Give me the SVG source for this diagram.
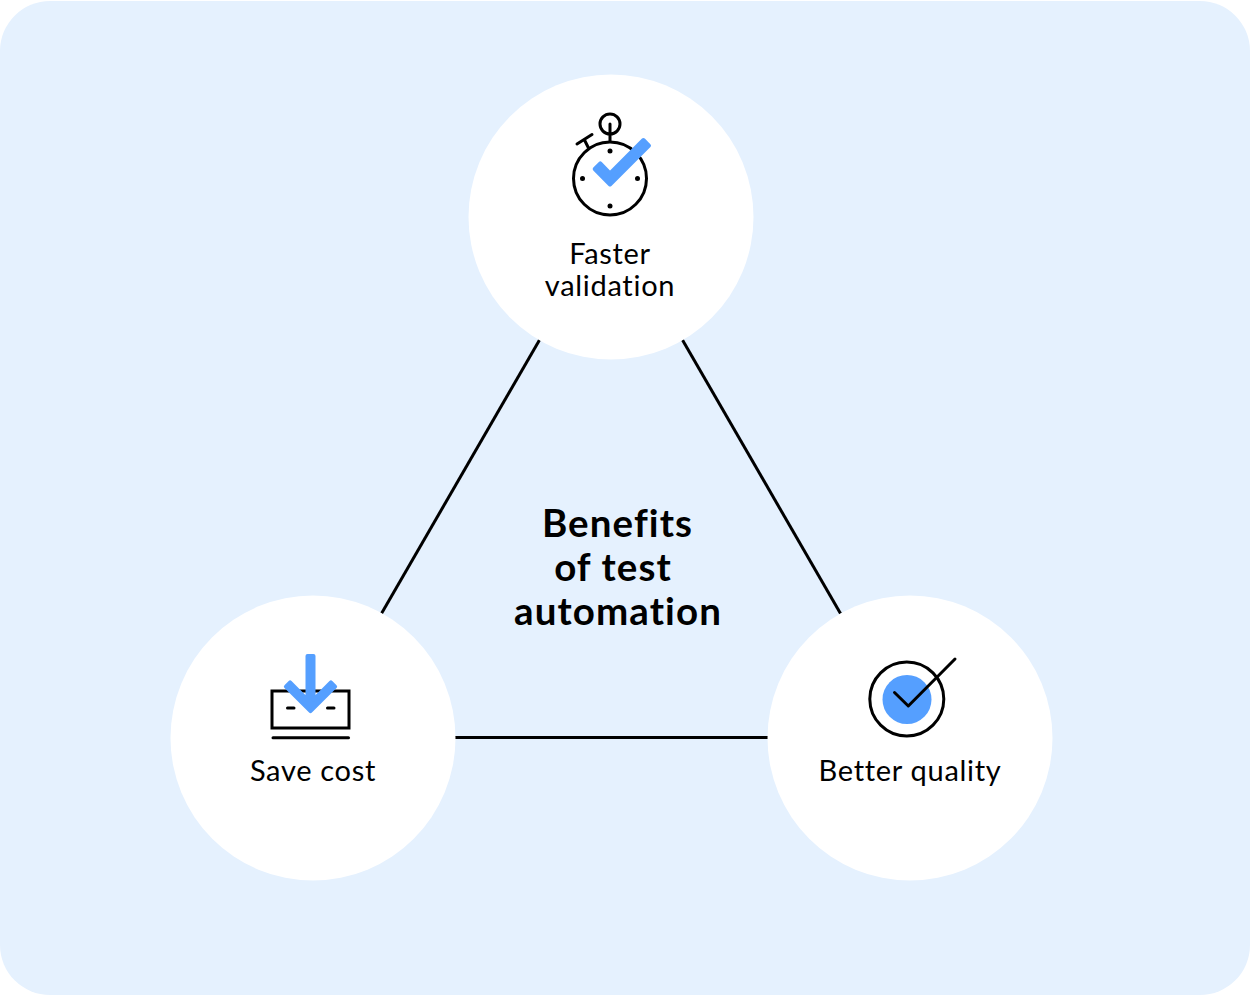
<svg xmlns="http://www.w3.org/2000/svg" width="1250" height="996" viewBox="0 0 1250 996">
<style>
.node{fill:#fff}
.lbl{font-family:"Lato","Noto Sans",sans-serif;font-size:29px;letter-spacing:.7px;font-variant-ligatures:none;fill:#000;text-anchor:middle}
.ttl{font-family:"Lato","Noto Sans",sans-serif;font-size:38.500px;letter-spacing:1.100px;font-variant-ligatures:none;font-weight:700;fill:#000;text-anchor:middle}
.k{fill:none;stroke:#000;stroke-width:3;stroke-linecap:round;stroke-linejoin:round}
.b{fill:#559fff;stroke:#559fff;stroke-width:4;stroke-linejoin:round}
.c{fill:none;stroke:#000;stroke-width:3}
</style>
<rect y="1" width="1250" height="994" rx="50" fill="#e5f1fe"/>
<g id="connectors">
<line class="c" x1="539.500" y1="340" x2="381.500" y2="613.500"/>
<line class="c" x1="682.500" y1="340" x2="840.500" y2="613.500"/>
<line class="c" x1="455" y1="737.500" x2="768" y2="737.500"/>
</g>
<g id="faster-validation">
<circle class="node" cx="611" cy="217" r="142.500"/>
<circle class="k" cx="610" cy="178.500" r="36.500"/>
<circle class="k" cx="610" cy="124" r="10"/>
<path class="k" d="M610 124V141M577 144L592 134.500M584.500 140L588 147"/>
<g fill="#000"><circle cx="610" cy="151" r="2.500"/><circle cx="610" cy="206" r="2.500"/><circle cx="582.500" cy="178.500" r="2.500"/><circle cx="637.500" cy="178.500" r="2.500"/></g>
<path class="b" d="M594.700 169L600.300 163.400L610 173.300L643.400 140L649 145.600L610 184.500Z"/>
<text class="lbl" x="610" y="264">Faster</text>
<text class="lbl" x="610" y="296">validation</text>
</g>
<g id="save-cost">
<circle class="node" cx="313" cy="738" r="142.500"/>
<rect x="272" y="691" width="77" height="37" fill="none" stroke="#000" stroke-width="3"/>
<path class="k" d="M273 737.700H348.500"/>
<path d="M287.500 708H294M327.500 708H334" fill="none" stroke="#000" stroke-width="3" stroke-linecap="round"/>
<path class="b" d="M307.500 656H313.500V699.800L330.900 682.400L335.100 686.600L310.500 711.200L285.900 686.600L290.100 682.400L307.500 699.800Z"/>
<text class="lbl" x="313" y="781" letter-spacing="1">Save cost</text>
</g>
<g id="better-quality">
<circle class="node" cx="910" cy="738" r="142.500"/>
<circle cx="907" cy="699.500" r="24.500" fill="#559fff"/>
<circle class="k" cx="906.800" cy="699" r="37"/>
<path class="k" d="M894.500 692.500L908.300 706L955 659"/>
<text class="lbl" x="910" y="781">Better quality</text>
</g>
<g id="title">
<text class="ttl" x="617.500" y="537">Benefits</text>
<text class="ttl" x="613" y="581">of test</text>
<text class="ttl" x="618" y="625">automation</text>
</g>
</svg>
